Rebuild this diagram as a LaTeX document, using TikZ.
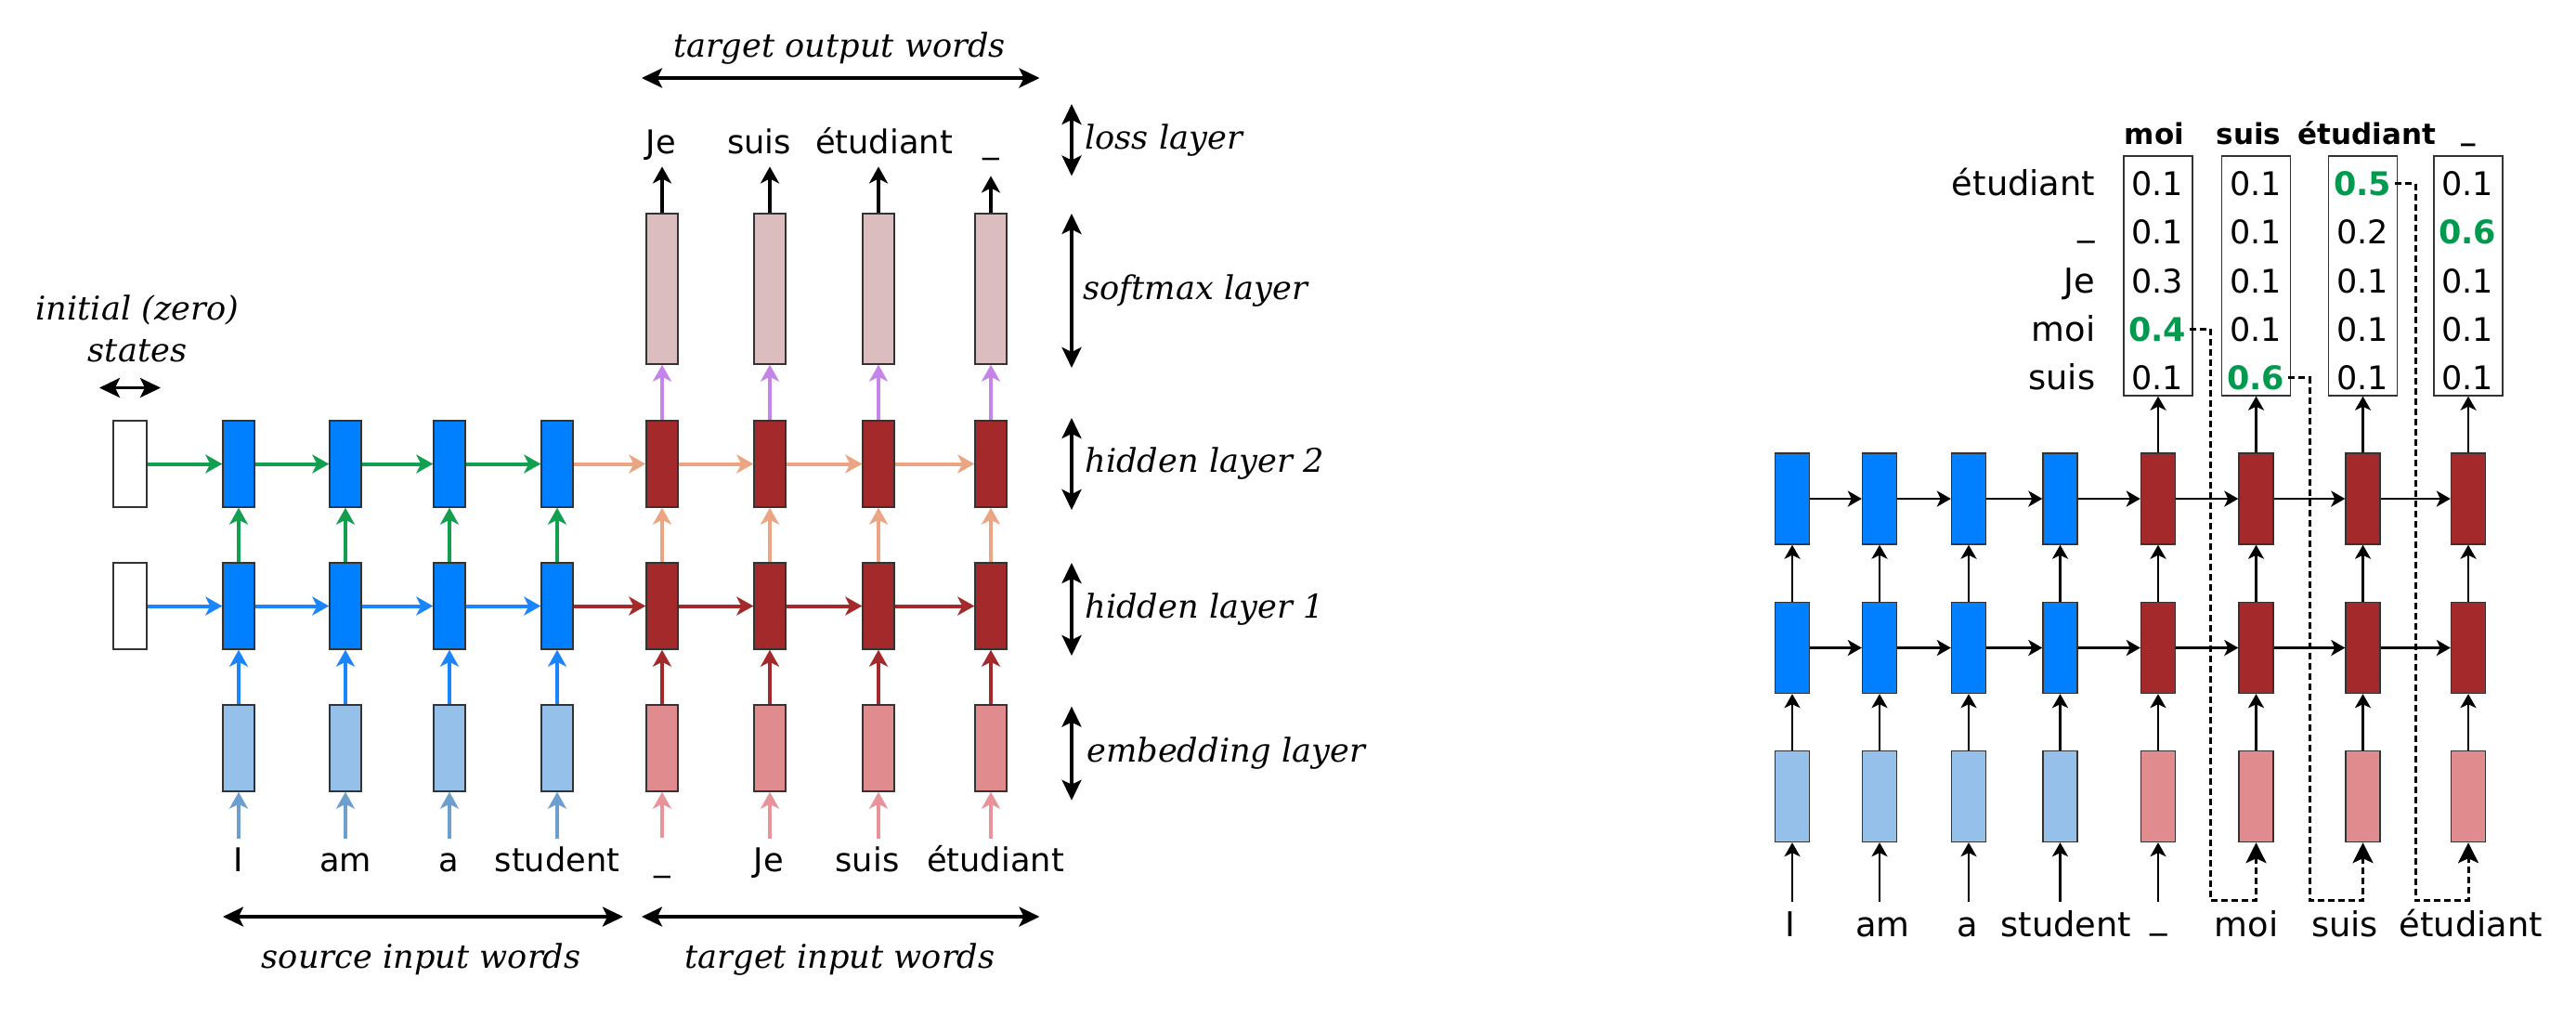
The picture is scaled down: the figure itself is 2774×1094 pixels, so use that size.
\documentclass[tikz,border=0pt]{standalone}
\usepackage{fontspec}
\setmainfont{DejaVu Sans}
\newfontfamily\labfont{DejaVu Serif}
\usetikzlibrary{arrows.meta,calc}
\definecolor{srcH}{HTML}{0080FF}
\definecolor{srcE}{HTML}{94C0EA}
\definecolor{tgtH}{HTML}{A3292B}
\definecolor{tgtE}{HTML}{E08C8E}
\definecolor{smaxC}{HTML}{DBBDBF}
\definecolor{bordC}{HTML}{333333}
\definecolor{cGreen}{HTML}{12A050}
\definecolor{cBlue}{HTML}{1A85FF}
\definecolor{cLBlue}{HTML}{6C9ECE}
\definecolor{cSalmon}{HTML}{EBA583}
\definecolor{cDRed}{HTML}{A3292B}
\definecolor{cPink}{HTML}{E8939A}
\definecolor{cPurple}{HTML}{C484EA}
\definecolor{cNum}{HTML}{009A4E}
\newcommand\fwL{\fontsize{17.6pt}{21pt}\selectfont}
\newcommand\flab{\labfont\itshape\fontsize{17.6pt}{21pt}\selectfont}
\newcommand\fwR{\fontsize{18.4pt}{22pt}\selectfont}
\newcommand\fnum{\fontsize{17.5pt}{21pt}\selectfont}
\newcommand\fhead{\bfseries\fontsize{15.5pt}{19pt}\selectfont}
\begin{document}
\begin{tikzpicture}[x=0.5pt,y=-0.5pt,
  box/.style={draw=bordC,line width=0.7pt,inner sep=0pt,minimum width=17pt,minimum height=46.5pt},
  sh/.style={box,fill=srcH},
  se/.style={box,fill=srcE},
  th/.style={box,fill=tgtH},
  te/.style={box,fill=tgtE},
  smbox/.style={box,fill=smaxC,minimum height=81pt},
  ini/.style={box,fill=white,minimum width=18pt},
  rbox/.style={draw=bordC,line width=0.7pt,inner sep=0pt,minimum width=18.5pt,minimum height=49pt},
  rsh/.style={rbox,fill=srcH},
  rse/.style={rbox,fill=srcE},
  rth/.style={rbox,fill=tgtH},
  rte/.style={rbox,fill=tgtE},
  pbox/.style={draw=bordC,line width=0.7pt,inner sep=0pt,minimum width=37pt,minimum height=129pt},
  arr/.style={line width=2pt,-{Stealth[length=9pt,width=10pt,inset=2.5pt]}},
  rarr/.style={line width=1.4pt,-{Stealth[length=7.5pt,width=8.5pt,inset=2pt]}},
  dsh/.style={line width=1.5pt,dash pattern=on 3.5pt off 2pt,-{Stealth[length=11pt,width=11pt,inset=2.5pt]}},
  dbl/.style={line width=1.6pt,{Stealth[length=11pt,width=10.5pt,inset=2.5pt]}-{Stealth[length=11pt,width=10.5pt,inset=2.5pt]}},
  wt/.style={font=\fwL,inner sep=0pt,anchor=base,text height=13pt,text depth=7pt},
  wb/.style={font=\fwL,inner sep=0pt,anchor=base,text height=17.5pt,text depth=0pt},
  rwb/.style={font=\fwR,inner sep=0pt,anchor=base,text height=18.5pt,text depth=0pt},
  lab/.style={font=\flab,inner sep=0pt},
  num/.style={font=\fnum,inner sep=2pt,anchor=base},
  gnum/.style={num,font=\fnum\bfseries,text=cNum},
  rlab/.style={font=\fwR,inner sep=0pt,anchor=base east},
  hd/.style={font=\fhead,inner sep=0pt,anchor=base}
]
\fill[white] (0,0) rectangle (2774,1094);
\path[use as bounding box] (0,0) rectangle (2774,1094);

%% ================= LEFT DIAGRAM =================
\node[ini] (z2) at (140,499.5) {};
\node[ini] (z1) at (140,652.5) {};
\foreach \i/\x in {1/257,2/372,3/484,4/600}{
  \node[sh] (a2-\i) at (\x,499.5) {};
  \node[sh] (a1-\i) at (\x,652.5) {};
  \node[se] (ae-\i) at (\x,805.5) {};
}
\foreach \i/\x in {5/713,6/829,7/946,8/1067}{
  \node[th] (a2-\i) at (\x,499.5) {};
  \node[th] (a1-\i) at (\x,652.5) {};
  \node[te] (ae-\i) at (\x,805.5) {};
  \node[smbox] (as-\i) at (\x,311) {};
}
% output words
\node[wt] (o5) at (712,165) {Je};
\node[wt] (o6) at (817.5,165) {suis};
\node[wt] (o7) at (952,165) {étudiant};
\node[wt,text depth=12.5pt] (o8) at (1067,164) {\_};
% input words
\node[wb] (i1) at (257,938) {I};
\node[wb] (i2) at (372,938) {am};
\node[wb] (i3) at (483,938) {a};
\node[wb] (i4) at (600,938) {student};
\node[wb] (i5) at (713,937) {\_};
\node[wb] (i6) at (828,938) {Je};
\node[wb] (i7) at (934,938) {suis};
\node[wb] (i8) at (1072,938) {étudiant};

% initial connections
\draw[arr,cGreen] (z2.east) -- (a2-1.west);
\draw[arr,cBlue] (z1.east) -- (a1-1.west);
% horizontal
\foreach \i in {1,2,3}{
  \pgfmathtruncatemacro\j{\i+1}
  \draw[arr,cGreen] (a2-\i.east) -- (a2-\j.west);
  \draw[arr,cBlue] (a1-\i.east) -- (a1-\j.west);
}
\foreach \i in {4,5,6,7}{
  \pgfmathtruncatemacro\j{\i+1}
  \draw[arr,cSalmon] (a2-\i.east) -- (a2-\j.west);
  \draw[arr,cDRed] (a1-\i.east) -- (a1-\j.west);
}
% vertical
\foreach \i in {1,2,3,4}{
  \draw[arr,cBlue] (ae-\i.north) -- (a1-\i.south);
  \draw[arr,cGreen] (a1-\i.north) -- (a2-\i.south);
  \draw[arr,cLBlue] (ae-\i.south |- i\i.north) -- (ae-\i.south);
}
\foreach \i in {5,6,7,8}{
  \draw[arr,cDRed] (ae-\i.north) -- (a1-\i.south);
  \draw[arr,cSalmon] (a1-\i.north) -- (a2-\i.south);
  \draw[arr,cPurple] (a2-\i.north) -- (as-\i.south);
  \draw[arr,black] (as-\i.north) -- (as-\i.north |- o\i.south);
  \draw[arr,cPink] (ae-\i.south |- i\i.north) -- (ae-\i.south);
}

% labels and double arrows
\coordinate (toL) at (691,84);
\coordinate (toR) at (1119.5,84);
\draw[dbl] (toL) -- (toR);
\node[lab,anchor=base] (tow) at (904,61) {target output words};

\coordinate (siL) at (240,987);
\coordinate (siR) at (671,987);
\draw[dbl] (siL) -- (siR);
\node[lab,anchor=base] (siw) at (453.6,1042) {source input words};

\coordinate (tiL) at (691,987);
\coordinate (tiR) at (1119.5,987);
\draw[dbl] (tiL) -- (tiR);
\node[lab,anchor=base] (tiw) at (904.5,1042) {target input words};

\coordinate (isL) at (107,417.5);
\coordinate (isR) at (173,417.5);
\draw[dbl] (isL) -- (isR);
\node[lab,anchor=base] (is1) at (148,344) {initial (zero)};
\node[lab,anchor=base] (is2) at (148,389.5) {states};

\coordinate (ll1) at (1154,112);   \coordinate (ll2) at (1154,189.5);
\coordinate (sl1) at (1154,230);   \coordinate (sl2) at (1154,396);
\coordinate (h2a) at (1154,450);   \coordinate (h2b) at (1154,549);
\coordinate (h1a) at (1154,606);   \coordinate (h1b) at (1154,706);
\coordinate (ela) at (1154,760.6); \coordinate (elb) at (1154,861.7);
\draw[dbl] (ll1) -- (ll2);
\draw[dbl] (sl1) -- (sl2);
\draw[dbl] (h2a) -- (h2b);
\draw[dbl] (h1a) -- (h1b);
\draw[dbl] (ela) -- (elb);
\node[lab,anchor=west] (lossl) at (1168,151) {loss layer};
\node[lab,anchor=west] (softl) at (1166,313) {softmax layer};
\node[lab,anchor=west] (hid2l) at (1168,499.5) {hidden layer 2};
\node[lab,anchor=west] (hid1l) at (1168,656) {hidden layer 1};
\node[lab,anchor=west] (embl) at (1170,811) {embedding layer};

%% ================= RIGHT DIAGRAM =================
\foreach \i/\x in {1/1930,2/2024,3/2120,4/2218.5}{
  \node[rsh] (b2-\i) at (\x,537) {};
  \node[rsh] (b1-\i) at (\x,697.5) {};
  \node[rse] (be-\i) at (\x,857.5) {};
}
\foreach \i/\x in {5/2324,6/2429.5,7/2544.5,8/2658}{
  \node[rth] (b2-\i) at (\x,537) {};
  \node[rth] (b1-\i) at (\x,697.5) {};
  \node[rte] (be-\i) at (\x,857.5) {};
  \node[pbox] (pb-\i) at (\x,297) {};
}
% numbers
\node[num] (n5-1) at (2323,210) {0.1};
\node[num] (n5-2) at (2323,262.5) {0.1};
\node[num] (n5-3) at (2323,315) {0.3};
\node[gnum] (n5-4) at (2323,367) {0.4};
\node[num] (n5-5) at (2323,419.5) {0.1};
\node[num] (n6-1) at (2429,210) {0.1};
\node[num] (n6-2) at (2429,262.5) {0.1};
\node[num] (n6-3) at (2429,315) {0.1};
\node[num] (n6-4) at (2429,367) {0.1};
\node[gnum] (n6-5) at (2429,419.5) {0.6};
\node[gnum] (n7-1) at (2544,210) {0.5};
\node[num] (n7-2) at (2544,262.5) {0.2};
\node[num] (n7-3) at (2544,315) {0.1};
\node[num] (n7-4) at (2544,367) {0.1};
\node[num] (n7-5) at (2544,419.5) {0.1};
\node[num] (n8-1) at (2657,210) {0.1};
\node[gnum] (n8-2) at (2657,262.5) {0.6};
\node[num] (n8-3) at (2657,315) {0.1};
\node[num] (n8-4) at (2657,367) {0.1};
\node[num] (n8-5) at (2657,419.5) {0.1};
% row labels
\node[rlab] (r1) at (2256.6,210) {étudiant};
\node[rlab] (r2) at (2256.6,253) {\_};
\node[rlab] (r3) at (2256.6,315) {Je};
\node[rlab] (r4) at (2256.6,367) {moi};
\node[rlab] (r5) at (2256.6,419.5) {suis};
% headers
\node[hd] (h5) at (2320,155) {moi};
\node[hd] (h6) at (2421.5,155) {suis};
\node[hd] (h7) at (2549,155) {étudiant};
\node[hd] (h8) at (2658,150) {\_};
% bottom words
\node[rwb] (j1) at (1928,1008) {I};
\node[rwb] (j2) at (2027.5,1008) {am};
\node[rwb] (j3) at (2119,1008) {a};
\node[rwb] (j4) at (2225,1008) {student};
\node[rwb,text height=14pt] (j5) at (2325,999) {\_};
\node[rwb] (j6) at (2419,1008) {moi};
\node[rwb] (j7) at (2525,1008) {suis};
\node[rwb] (j8) at (2661,1008) {étudiant};

% dashed feedback
\coordinate (d1) at (2380.4,969.5);
\coordinate (d2) at (2487.6,969.5);
\coordinate (d3) at (2601,969.5);
\draw[dsh] (n5-4.east) -| (d1) -| (be-6.south);
\draw[dsh] (n6-5.east) -| (d2) -| (be-7.south);
\draw[dsh] (n7-1.east) -| (d3) -| (be-8.south);

% arrows
\foreach \i in {1,...,7}{
  \pgfmathtruncatemacro\j{\i+1}
  \draw[rarr] (b2-\i.east) -- (b2-\j.west);
  \draw[rarr] (b1-\i.east) -- (b1-\j.west);
}
\foreach \i in {1,...,8}{
  \draw[rarr] (be-\i.north) -- (b1-\i.south);
  \draw[rarr] (b1-\i.north) -- (b2-\i.south);
}
\foreach \i in {5,...,8}{
  \draw[rarr] (b2-\i.north) -- (pb-\i.south);
}
\foreach \i in {1,...,5}{
  \draw[rarr] (be-\i.south |- j\i.north) -- (be-\i.south);
}
\end{tikzpicture}
\end{document}
